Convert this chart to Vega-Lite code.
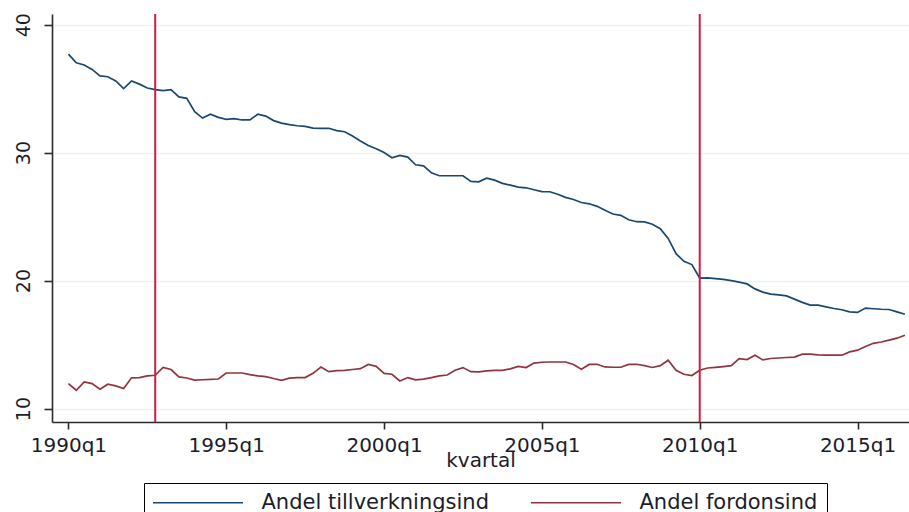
{
  "$schema": "https://vega.github.io/schema/vega-lite/v6.json",
  "autosize": {"type": "none"},
  "padding": {"left": 52, "top": 14, "right": 0, "bottom": 90},
  "width": 857,
  "height": 408,
  "background": "white",
  "config": {
    "view": {"stroke": null},
    "font": "DejaVu Sans",
    "axis": {
      "domainColor": "#2b2b2b",
      "domainWidth": 1.6,
      "tickColor": "#2b2b2b",
      "tickWidth": 1.6,
      "labelColor": "#1c1c2a",
      "titleColor": "#1c1c2a",
      "labelFont": "DejaVu Sans",
      "titleFont": "DejaVu Sans"
    }
  },
  "datasets": {
    "kvartal": [
      {"t": 1990.00, "tillv": 37.70, "fordon": 11.95},
      {"t": 1990.25, "tillv": 37.02, "fordon": 11.43},
      {"t": 1990.50, "tillv": 36.85, "fordon": 12.08},
      {"t": 1990.75, "tillv": 36.50, "fordon": 11.95},
      {"t": 1991.00, "tillv": 36.00, "fordon": 11.51},
      {"t": 1991.25, "tillv": 35.93, "fordon": 11.90},
      {"t": 1991.50, "tillv": 35.60, "fordon": 11.77},
      {"t": 1991.75, "tillv": 35.00, "fordon": 11.56},
      {"t": 1992.00, "tillv": 35.60, "fordon": 12.40},
      {"t": 1992.25, "tillv": 35.35, "fordon": 12.42},
      {"t": 1992.50, "tillv": 35.05, "fordon": 12.55},
      {"t": 1992.75, "tillv": 34.92, "fordon": 12.60},
      {"t": 1993.00, "tillv": 34.85, "fordon": 13.21},
      {"t": 1993.25, "tillv": 34.92, "fordon": 13.05},
      {"t": 1993.50, "tillv": 34.35, "fordon": 12.47},
      {"t": 1993.75, "tillv": 34.24, "fordon": 12.39},
      {"t": 1994.00, "tillv": 33.20, "fordon": 12.22},
      {"t": 1994.25, "tillv": 32.70, "fordon": 12.25},
      {"t": 1994.50, "tillv": 33.00, "fordon": 12.28},
      {"t": 1994.75, "tillv": 32.75, "fordon": 12.31},
      {"t": 1995.00, "tillv": 32.60, "fordon": 12.78},
      {"t": 1995.25, "tillv": 32.65, "fordon": 12.78},
      {"t": 1995.50, "tillv": 32.55, "fordon": 12.78},
      {"t": 1995.75, "tillv": 32.55, "fordon": 12.65},
      {"t": 1996.00, "tillv": 33.00, "fordon": 12.55},
      {"t": 1996.25, "tillv": 32.85, "fordon": 12.50},
      {"t": 1996.50, "tillv": 32.50, "fordon": 12.35},
      {"t": 1996.75, "tillv": 32.30, "fordon": 12.21},
      {"t": 1997.00, "tillv": 32.18, "fordon": 12.38},
      {"t": 1997.25, "tillv": 32.10, "fordon": 12.42},
      {"t": 1997.50, "tillv": 32.05, "fordon": 12.42},
      {"t": 1997.75, "tillv": 31.92, "fordon": 12.75},
      {"t": 1998.00, "tillv": 31.90, "fordon": 13.25},
      {"t": 1998.25, "tillv": 31.90, "fordon": 12.88},
      {"t": 1998.50, "tillv": 31.72, "fordon": 12.97},
      {"t": 1998.75, "tillv": 31.63, "fordon": 12.99},
      {"t": 1999.00, "tillv": 31.30, "fordon": 13.05},
      {"t": 1999.25, "tillv": 30.90, "fordon": 13.12},
      {"t": 1999.50, "tillv": 30.55, "fordon": 13.45},
      {"t": 1999.75, "tillv": 30.30, "fordon": 13.30},
      {"t": 2000.00, "tillv": 30.00, "fordon": 12.75},
      {"t": 2000.25, "tillv": 29.60, "fordon": 12.68},
      {"t": 2000.50, "tillv": 29.78, "fordon": 12.16},
      {"t": 2000.75, "tillv": 29.65, "fordon": 12.42},
      {"t": 2001.00, "tillv": 29.05, "fordon": 12.25},
      {"t": 2001.25, "tillv": 28.97, "fordon": 12.30},
      {"t": 2001.50, "tillv": 28.42, "fordon": 12.42},
      {"t": 2001.75, "tillv": 28.19, "fordon": 12.55},
      {"t": 2002.00, "tillv": 28.19, "fordon": 12.62},
      {"t": 2002.25, "tillv": 28.19, "fordon": 12.99},
      {"t": 2002.50, "tillv": 28.19, "fordon": 13.20},
      {"t": 2002.75, "tillv": 27.75, "fordon": 12.88},
      {"t": 2003.00, "tillv": 27.72, "fordon": 12.86},
      {"t": 2003.25, "tillv": 28.00, "fordon": 12.95},
      {"t": 2003.50, "tillv": 27.85, "fordon": 12.99},
      {"t": 2003.75, "tillv": 27.60, "fordon": 12.99},
      {"t": 2004.00, "tillv": 27.46, "fordon": 13.10},
      {"t": 2004.25, "tillv": 27.30, "fordon": 13.30},
      {"t": 2004.50, "tillv": 27.25, "fordon": 13.20},
      {"t": 2004.75, "tillv": 27.10, "fordon": 13.55},
      {"t": 2005.00, "tillv": 26.95, "fordon": 13.62},
      {"t": 2005.25, "tillv": 26.94, "fordon": 13.64},
      {"t": 2005.50, "tillv": 26.75, "fordon": 13.64},
      {"t": 2005.75, "tillv": 26.50, "fordon": 13.64},
      {"t": 2006.00, "tillv": 26.34, "fordon": 13.45},
      {"t": 2006.25, "tillv": 26.10, "fordon": 13.07},
      {"t": 2006.50, "tillv": 26.00, "fordon": 13.45},
      {"t": 2006.75, "tillv": 25.80, "fordon": 13.46},
      {"t": 2007.00, "tillv": 25.50, "fordon": 13.25},
      {"t": 2007.25, "tillv": 25.20, "fordon": 13.23},
      {"t": 2007.50, "tillv": 25.10, "fordon": 13.23},
      {"t": 2007.75, "tillv": 24.75, "fordon": 13.45},
      {"t": 2008.00, "tillv": 24.60, "fordon": 13.46},
      {"t": 2008.25, "tillv": 24.59, "fordon": 13.35},
      {"t": 2008.50, "tillv": 24.40, "fordon": 13.21},
      {"t": 2008.75, "tillv": 24.05, "fordon": 13.35},
      {"t": 2009.00, "tillv": 23.30, "fordon": 13.78},
      {"t": 2009.25, "tillv": 22.10, "fordon": 12.99},
      {"t": 2009.50, "tillv": 21.50, "fordon": 12.68},
      {"t": 2009.75, "tillv": 21.25, "fordon": 12.58},
      {"t": 2010.00, "tillv": 20.20, "fordon": 12.99},
      {"t": 2010.25, "tillv": 20.21, "fordon": 13.17},
      {"t": 2010.50, "tillv": 20.15, "fordon": 13.22},
      {"t": 2010.75, "tillv": 20.09, "fordon": 13.28},
      {"t": 2011.00, "tillv": 20.00, "fordon": 13.35},
      {"t": 2011.25, "tillv": 19.88, "fordon": 13.90},
      {"t": 2011.50, "tillv": 19.74, "fordon": 13.83},
      {"t": 2011.75, "tillv": 19.35, "fordon": 14.17},
      {"t": 2012.00, "tillv": 19.10, "fordon": 13.80},
      {"t": 2012.25, "tillv": 18.94, "fordon": 13.91},
      {"t": 2012.50, "tillv": 18.88, "fordon": 13.95},
      {"t": 2012.75, "tillv": 18.80, "fordon": 13.99},
      {"t": 2013.00, "tillv": 18.55, "fordon": 14.02},
      {"t": 2013.25, "tillv": 18.30, "fordon": 14.25},
      {"t": 2013.50, "tillv": 18.08, "fordon": 14.25},
      {"t": 2013.75, "tillv": 18.08, "fordon": 14.20},
      {"t": 2014.00, "tillv": 17.95, "fordon": 14.17},
      {"t": 2014.25, "tillv": 17.82, "fordon": 14.17},
      {"t": 2014.50, "tillv": 17.72, "fordon": 14.17},
      {"t": 2014.75, "tillv": 17.55, "fordon": 14.43},
      {"t": 2015.00, "tillv": 17.51, "fordon": 14.56},
      {"t": 2015.25, "tillv": 17.85, "fordon": 14.85},
      {"t": 2015.50, "tillv": 17.80, "fordon": 15.10},
      {"t": 2015.75, "tillv": 17.76, "fordon": 15.20},
      {"t": 2016.00, "tillv": 17.74, "fordon": 15.35},
      {"t": 2016.25, "tillv": 17.55, "fordon": 15.50},
      {"t": 2016.50, "tillv": 17.37, "fordon": 15.73}
    ],
    "linjer": [
      {"t": 1992.75},
      {"t": 2010.00}
    ]
  },
  "encoding": {
    "x": {
      "field": "t",
      "type": "quantitative",
      "scale": {"domain": [1989.48, 2016.63], "nice": false, "zero": false},
      "axis": {
        "values": [1990, 1995, 2000, 2005, 2010, 2015],
        "labelExpr": "datum.value + 'q1'",
        "grid": false,
        "tickSize": 7,
        "labelPadding": 6,
        "labelFontSize": 20,
        "labelFlush": false,
        "labelOverlap": false,
        "title": "kvartal",
        "titleFontSize": 20,
        "titleFontWeight": "normal",
        "titlePadding": -5
      }
    }
  },
  "layer": [
    {
      "data": {"name": "kvartal"},
      "transform": [{"fold": ["tillv", "fordon"], "as": ["serie", "andel"]}],
      "mark": {"type": "line", "strokeWidth": 1.7},
      "encoding": {
        "y": {
          "field": "andel",
          "type": "quantitative",
          "scale": {"domain": [8.95, 40.83], "nice": false, "zero": false},
          "axis": {
            "values": [10, 20, 30, 40],
            "grid": true,
            "gridColor": "#eaf2f3",
            "gridWidth": 1.5,
            "tickSize": 8,
            "labelAngle": -90,
            "labelAlign": "center",
            "labelBaseline": "bottom",
            "labelPadding": 11,
            "labelFontSize": 19,
            "title": null
          }
        },
        "color": {
          "field": "serie",
          "type": "nominal",
          "scale": {"domain": ["tillv", "fordon"], "range": ["#1a476f", "#90353b"]},
          "legend": {
            "orient": "none",
            "legendX": 92,
            "legendY": 469,
            "direction": "horizontal",
            "columns": 2,
            "title": null,
            "symbolType": "M-9,0H9",
            "symbolSize": 100,
            "symbolStrokeWidth": 1.5,
            "symbolOffset": 34.5,
            "labelFontSize": 21,
            "labelColor": "#1c1c2a",
            "labelOffset": 53,
            "columnPadding": 38,
            "padding": 9,
            "strokeColor": "#000000",
            "labelLimit": 400,
            "labelExpr": "datum.label == 'tillv' ? 'Andel tillverkningsind' : 'Andel fordonsind'"
          }
        }
      }
    },
    {
      "data": {"name": "linjer"},
      "mark": {"type": "rule", "color": "#d01c44", "strokeWidth": 2},
      "encoding": {}
    }
  ]
}
